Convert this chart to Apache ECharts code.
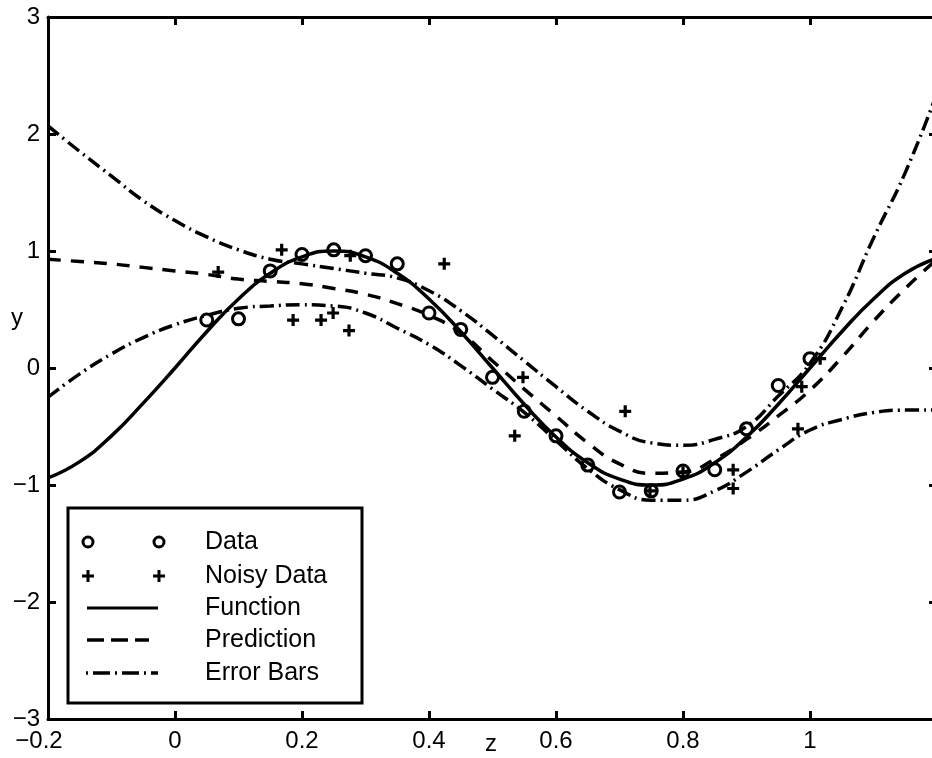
<!DOCTYPE html>
<html><head><meta charset="utf-8">
<script src="https://cdn.jsdelivr.net/npm/echarts@6/dist/echarts.min.js"></script>
<style>html,body{margin:0;padding:0;background:#fff;overflow:hidden}#c{width:932px;height:758px}</style>
</head><body><div id="c"></div>
<script>
const zGrid = [-0.2,-0.15,-0.1,-0.05,0,0.05,0.1,0.15,0.2,0.25,0.3,0.35,0.4,0.45,0.5,0.55,0.6,0.65,0.7,0.75,0.8,0.85,0.9,0.95,1.0,1.05,1.1,1.15,1.2];
const functionY = [-0.94,-0.80,-0.58,-0.30,0.0,0.31,0.59,0.81,0.95,1.0,0.95,0.81,0.59,0.31,0.0,-0.31,-0.59,-0.81,-0.95,-1.0,-0.95,-0.81,-0.59,-0.31,0.0,0.31,0.59,0.81,0.94];
const predictionY = [0.93,0.91,0.89,0.86,0.83,0.80,0.76,0.74,0.72,0.68,0.63,0.55,0.45,0.30,0.06,-0.18,-0.41,-0.64,-0.82,-0.90,-0.89,-0.78,-0.61,-0.41,-0.19,0.09,0.40,0.68,0.93];
const upperY = [2.07,1.85,1.64,1.43,1.26,1.12,1.01,0.93,0.89,0.85,0.81,0.77,0.66,0.49,0.28,0.06,-0.16,-0.37,-0.54,-0.64,-0.66,-0.61,-0.50,-0.24,0.04,0.51,1.11,1.67,2.35];
const lowerY = [-0.25,-0.05,0.12,0.26,0.37,0.45,0.51,0.53,0.54,0.53,0.47,0.34,0.20,0.02,-0.18,-0.38,-0.62,-0.86,-1.04,-1.13,-1.13,-1.05,-0.89,-0.70,-0.53,-0.44,-0.38,-0.36,-0.36];
const dataZ = [0.05,0.10,0.15,0.20,0.25,0.30,0.35,0.40,0.45,0.50,0.55,0.60,0.65,0.70,0.75,0.80,0.85,0.90,0.95,1.00];
const dataY = [0.41,0.42,0.83,0.97,1.01,0.96,0.89,0.47,0.33,-0.08,-0.37,-0.58,-0.83,-1.06,-1.05,-0.88,-0.87,-0.52,-0.15,0.08];
const noisyZ = [0.068,0.168,0.186,0.230,0.249,0.274,0.276,0.424,0.535,0.548,0.709,0.748,0.800,0.879,0.879,0.981,0.987,1.016];
const noisyY = [0.82,1.01,0.41,0.41,0.47,0.32,0.96,0.89,-0.58,-0.08,-0.37,-1.05,-0.89,-0.87,-1.03,-0.52,-0.16,0.08];
const legendNames = ['Data','Noisy Data','Function','Prediction','Error Bars'];

const FONT = '"Liberation Sans", Arial, sans-serif';
const pair = (xs, ys) => xs.map((x, i) => [x, ys[i]]);
const PLUS = 'path://M4.4,0h3.2v4.4h4.4v3.2h-4.4v4.4h-3.2v-4.4h-4.4v-3.2h4.4z';
const fmt = v => {
  const s = String(Math.round(v * 10) / 10).replace('-', '\u2212');
  return v < -0.15 && v > -0.25 ? '{m|' + s + '}' : s;
};
const axisBase = {
  type: 'value',
  axisLine: { show: true, onZero: false, lineStyle: { color: '#000', width: 3 } },
  axisTick: { show: true, inside: true, length: 8, lineStyle: { color: '#000', width: 3 } },
  splitLine: { show: false }
};
const chart = echarts.init(document.getElementById('c'), null, { renderer: 'canvas' });
const lineSeries = (name, ys, type, w) => ({
  name, type: 'line', data: pair(zGrid, ys), smooth: true, symbol: 'none',
  lineStyle: { color: '#000', width: w, type }, z: 2, animation: false
});
const rowsY = [542, 576, 608, 640, 673];
chart.setOption({
  backgroundColor: '#fff',
  animation: false,
  grid: { left: 48, right: -5, top: 17, bottom: 39, containLabel: false, outerBoundsMode: 'none' },
  xAxis: [
    Object.assign({}, axisBase, {
      min: -0.2, max: 1.2, interval: 0.2, position: 'bottom',
      axisLabel: { color: '#000', fontSize: 24, fontFamily: FONT, margin: 10, showMaxLabel: false, formatter: fmt,
        rich: { m: { color: '#000', fontSize: 24, fontFamily: FONT, padding: [0, 18, 0, 0] } } }
    }),
    Object.assign({}, axisBase, {
      min: -0.2, max: 1.2, interval: 0.2, position: 'top', axisLabel: { show: false }
    })
  ],
  yAxis: [
    Object.assign({}, axisBase, {
      min: -3, max: 3, interval: 1, position: 'left',
      axisLabel: { color: '#000', fontSize: 24, fontFamily: FONT, margin: 8,
        formatter: v => String(v).replace('-', '\u2212') }
    }),
    Object.assign({}, axisBase, {
      min: -3, max: 3, interval: 1, position: 'right', axisLabel: { show: false }
    })
  ],
  series: [
    lineSeries('Function', functionY, 'solid', 3.5),
    lineSeries('Prediction', predictionY, [13, 10], 3.5),
    lineSeries('Error Bars', upperY, [14, 5, 2, 5], 3.5),
    lineSeries('Error Bars', lowerY, [14, 5, 2, 5], 3.5),
    { name: 'Data', type: 'scatter', data: pair(dataZ, dataY), symbol: 'circle', symbolSize: 12,
      itemStyle: { color: 'rgba(0,0,0,0)', borderColor: '#000', borderWidth: 3, opacity: 1 }, z: 3 },
    { name: 'Noisy Data', type: 'scatter', data: pair(noisyZ, noisyY), symbol: PLUS, symbolSize: 12,
      itemStyle: { color: '#000', opacity: 1 }, z: 3 }
  ],
  graphic: [
    { type: 'text', left: 11, top: 306, style: { text: 'y', font: '24px ' + FONT, fill: '#000' }, z: 10 },
    { type: 'text', x: 491, y: 744, style: { text: 'z', font: '24px ' + FONT, fill: '#000', align: 'center', verticalAlign: 'middle' }, z: 10 },
    { type: 'group', z: 20, children: [
      { type: 'rect', shape: { x: 68, y: 508, width: 294, height: 195 },
        style: { fill: '#fff', stroke: '#000', lineWidth: 3 } },
      { type: 'circle', shape: { cx: 88, cy: rowsY[0], r: 5 }, style: { fill: 'none', stroke: '#000', lineWidth: 3 } },
      { type: 'circle', shape: { cx: 159, cy: rowsY[0], r: 5 }, style: { fill: 'none', stroke: '#000', lineWidth: 3 } },
      { type: 'rect', shape: { x: 82, y: rowsY[1] - 1.5, width: 12, height: 3 }, style: { fill: '#000' } },
      { type: 'rect', shape: { x: 86.5, y: rowsY[1] - 6, width: 3, height: 12 }, style: { fill: '#000' } },
      { type: 'rect', shape: { x: 153, y: rowsY[1] - 1.5, width: 12, height: 3 }, style: { fill: '#000' } },
      { type: 'rect', shape: { x: 157.5, y: rowsY[1] - 6, width: 3, height: 12 }, style: { fill: '#000' } },
      { type: 'line', shape: { x1: 87, y1: rowsY[2], x2: 158, y2: rowsY[2] }, style: { stroke: '#000', lineWidth: 3 } },
      { type: 'line', shape: { x1: 87, y1: rowsY[3], x2: 149, y2: rowsY[3] }, style: { stroke: '#000', lineWidth: 3.5, lineDash: [17, 7] } },
      { type: 'line', shape: { x1: 86, y1: rowsY[4], x2: 158, y2: rowsY[4] }, style: { stroke: '#000', lineWidth: 3.5, lineDash: [2, 5, 17, 5] } },
      ...legendNames.map((n, i) => ({ type: 'text', x: 205, y: rowsY[i],
        style: { text: n, font: '25px ' + FONT, fill: '#000', verticalAlign: 'middle', align: 'left' } }))
    ] }
  ]
});
</script>
</body></html>
